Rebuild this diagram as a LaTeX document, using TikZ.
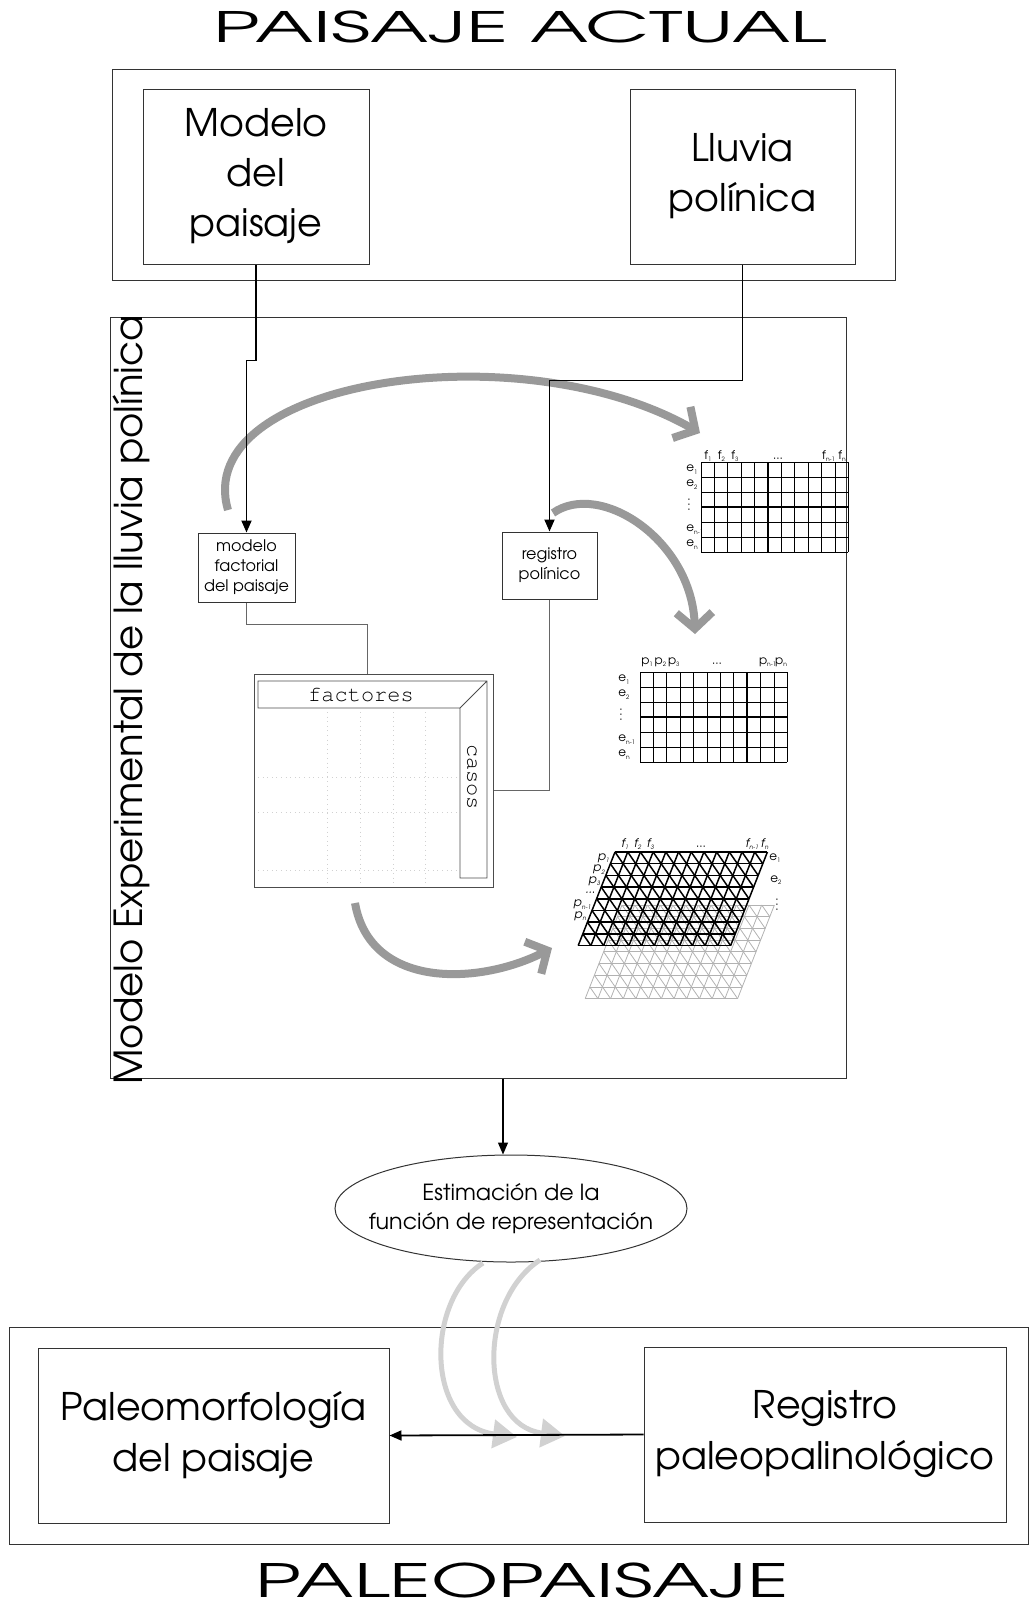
\documentclass[tikz,border=0pt]{standalone}
\usepackage{fontspec}
\setmainfont{TeX Gyre Adventor}
\newfontfamily\courier{TeX Gyre Cursor}
\usetikzlibrary{shapes}
\usetikzlibrary{arrows.meta}
\tikzset{
	frame/.style = {
		draw=black!80,
		line width=0.5pt,
		inner sep=0pt
	},
	textbox/.style = {
		frame,
		align=center,
		font=\fontsize{19}{25}\selectfont
	},
	smallbox/.style = {
		frame,
		align=center,
		font=\fontsize{8}{10}\selectfont
	},
	title/.style = {
		anchor=base,
		inner sep=0pt
	},
	link/.style = {
		line width=0.9pt,
		-{Triangle[length=6pt,width=5pt]}
	},
	thinlink/.style = {
		draw=black!60,
		line width=0.45pt
	},
	flow/.style = {
		draw=black!40,
		line width=4pt,
		-{Straight Barb[length=8pt,width=18pt]}
	},
	flowlight/.style = {
		draw=black!18,
		line width=2.5pt,
		-{Triangle[length=12pt,width=14pt]}
	},
	faint/.style = {
		draw=black!18,
		dotted,
		line width=0.3pt
	},
	cell/.style = {
		line width=0.35pt
	},
	cellbold/.style = {
		line width=0.8pt
	},
	layerdark/.style = {
		draw=black,
		line width=0.75pt
	},
	layerlight/.style = {
		draw=black!30,
		line width=0.4pt
	},
	lab/.style = {
		font=\fontsize{6}{6}\selectfont,
		inner sep=0pt
	},
	mono/.style = {
		font=\courier\fontsize{11}{11}\selectfont,
		inner sep=0pt
	}
}
\newcommand{\sub}[1]{\raisebox{-0.35ex}{\fontsize{3}{3}\selectfont #1}}
\newcommand{\vdotsmall}{\vbox{\baselineskip2.5pt\lineskiplimit0pt\hbox{.}\hbox{.}\hbox{.}}}
\newcommand{\trilayer}[3]{%
	\foreach \row in {0,...,8}
		\draw[#3] ({#1-\row*4.6},{#2+\row*11.7}) -- ++(152.4,0);
	\foreach \col in {0,...,12}
		\draw[#3] ({#1+\col*12.7},#2) -- ++(-36.8,93.6);
	\foreach \row in {0,...,7}
		\foreach \col in {0,...,11}
			\draw[#3] ({#1+\col*12.7-\row*4.6},{#2+\row*11.7}) -- ++(8.1,11.7);
}

\begin{document}
\begin{tikzpicture}[x=0.5pt,y=-0.5pt]
\useasboundingbox (0,0) rectangle (1029,1603);

\node[title, font=\fontsize{21}{21}\selectfont] (actual) at (520,42) {\scalebox{1.87}[1]{PAISAJE ACTUAL}};

\node[frame, minimum width=391.5pt, minimum height=105.5pt] (top) at (503.5,174.5) {};
\node[textbox, minimum width=113pt, minimum height=87.5pt] (modelo) at (256,176.5) {Modelo\\del\\paisaje};
\node[textbox, minimum width=112.5pt, minimum height=87.5pt] (lluvia) at (742.5,176.5) {Lluvia\\polínica};

\node[frame, minimum width=368pt, minimum height=380.5pt] (exper) at (478,697.5) {};
\node[rotate=90, anchor=base, inner sep=0pt, font=\fontsize{19.3}{19.3}\selectfont] (explabel) at (142,700) {Modelo Experimental de la lluvia polínica};

\node[smallbox, minimum width=48.5pt, minimum height=34.5pt] (factorial) at (246.5,567.5) {modelo\\factorial\\del paisaje};
\node[smallbox, minimum width=47.5pt, minimum height=33.5pt] (registro) at (549.5,565.5) {registro\\polínico};

% gray flows
\draw[flow] (228,510) .. controls (190,380) and (520,330) .. (700,433);
\draw[flow] (553,513) .. controls (600,480) and (692,540) .. (695,634);
\draw[flow] (355,903) .. controls (370,990) and (480,985) .. (552,948);

\draw[link] (modelo.south) -- ++(0,96) -| (factorial.north);
\draw[link] (lluvia.south) -- ++(0,116) -| (registro.north);

% factores / casos table
\node[frame, draw=black!70, minimum width=119.5pt, minimum height=106.5pt] (tabla) at (373.5,780.5) {};
\foreach \gx in {327,360,393,425}
	\draw[faint] (\gx,712) -- (\gx,884);
\foreach \gy in {777,812,870}
	\draw[faint] (258,\gy) -- (458,\gy);
\draw[black!70, line width=0.45pt] (258,681) -- (487,681) -- (487,878) -- (460,878) -- (460,708) -- (258,708) -- cycle (460,708) -- (487,681);
\node[mono] (factores) at (361,695) {factores};
\node[mono, rotate=-90] (casos) at (472,777) {casos};

\draw[thinlink] (factorial.south) -- ++(0,22) -| ([xshift=-3pt]tabla.north);
\draw[thinlink] (registro.south) |- ([yshift=-5pt]tabla.east);

% f matrix
\foreach \col in {0,...,11}
	\draw[cell] ({701+\col*13.4},462) -- ++(0,90);
\foreach \row in {0,...,6}
	\draw[cell] (701,{462+\row*15}) -- ++(147.4,0);
\foreach \col in {1,5,9}
	\draw[cellbold] ({701+\col*13.4},462) -- ++(0,90);
\draw[cellbold] (701,507) -- ++(147.4,0);
\foreach \col/\txt in {0/{f\sub{1}},1/{f\sub{2}},2/{f\sub{3}},9/{f\sub{n-1}},10/{f\sub{n}}}
	\node[lab, anchor=base] (fcol\col) at ({708+\col*13.4},459) {\txt};
\node[lab, anchor=base] (fdots) at (778,459) {...};
\foreach \row/\txt in {0/{e\sub{1}},1/{e\sub{2}},4/{e\sub{n-1}},5/{e\sub{n}}}
	\node[lab, anchor=west] (frow\row) at (686,{469.5+\row*15}) {\txt};
\node[lab] (fvdots) at (689,505) {\vdotsmall};

% p matrix
\foreach \col in {0,...,11}
	\draw[cell] ({640+\col*13.4},672) -- ++(0,90);
\foreach \row in {0,...,6}
	\draw[cell] (640,{672+\row*15}) -- ++(147.4,0);
\foreach \col in {4,8}
	\draw[cellbold] ({640+\col*13.4},672) -- ++(0,90);
\draw[cellbold] (640,717) -- ++(147.4,0);
\foreach \col/\txt in {0/{p\sub{1}},1/{p\sub{2}},2/{p\sub{3}},9/{p\sub{n-1}},10/{p\sub{n}}}
	\node[lab, anchor=base] (pcol\col) at ({647+\col*13.4},664) {\txt};
\node[lab, anchor=base] (pdots) at (717,664) {...};
\foreach \row/\txt in {0/{e\sub{1}},1/{e\sub{2}},4/{e\sub{n-1}},5/{e\sub{n}}}
	\node[lab, anchor=west] (prow\row) at (618,{679.5+\row*15}) {\txt};
\node[lab] (pvdots) at (621,715) {\vdotsmall};

% stacked layers
\trilayer{622}{905}{layerlight}
\trilayer{615}{852}{layerdark}
\foreach \col/\txt in {0/{f\sub{1}},1/{f\sub{2}},2/{f\sub{3}},10/{f\sub{n-1}},11/{f\sub{n}}}
	\node[lab, anchor=base] (lcol\col) at ({625+\col*12.7},847) {\textit{\txt}};
\node[lab, anchor=base] (ldots) at (701,847) {...};
\foreach \row/\txt in {0/{p\sub{1}},1/{p\sub{2}},2/{p\sub{3}},3/{...},4/{p\sub{n-1}},5/{p\sub{n}}}
	\node[lab, anchor=east] (lrow\row) at ({612-(\row+0.5)*4.6},{852+(\row+0.5)*11.7}) {\textit{\txt}};
\node[lab, anchor=west] (le1) at (769,858) {e\sub{1}};
\node[lab, anchor=west] (le2) at (770,880) {e\sub{2}};
\node[lab] (levdots) at (777,905) {\vdotsmall};

% estimation
\node[ellipse, frame, minimum width=176pt, minimum height=53.5pt, inner xsep=-15pt, align=center, font=\fontsize{11.1}{14.3}\selectfont] (estim) at (511,1208.5) {Estimación de la\\función de representación};
\coordinate (estimin) at ([xshift=-4pt]estim.north);
\draw[link, line width=0.6pt] (exper.south -| estimin) -- (estimin);

\node[frame, minimum width=509.5pt, minimum height=108.5pt] (bottom) at (518.5,1435.5) {};
\node[textbox, font=\fontsize{19}{25.5}\selectfont, minimum width=175.5pt, minimum height=87.5pt] (paleo) at (213.5,1435.5) {Paleomorfología\\del paisaje};
\node[textbox, font=\fontsize{19}{25.5}\selectfont, minimum width=181pt, minimum height=87.5pt] (regpal) at (825,1434.5) {Registro\\paleopalinológico};

\draw[flowlight] (483,1263) .. controls (425,1300) and (425,1425) .. (517,1437);
\draw[flowlight] (540,1260) .. controls (478,1300) and (478,1425) .. (565,1436);
\draw[link] (regpal.west) -- (paleo.east);

\node[title, font=\fontsize{23}{23}\selectfont] (paleopaisaje) at (522,1597) {\scalebox{1.68}[1]{PALEOPAISAJE}};
\end{tikzpicture}
\end{document}
